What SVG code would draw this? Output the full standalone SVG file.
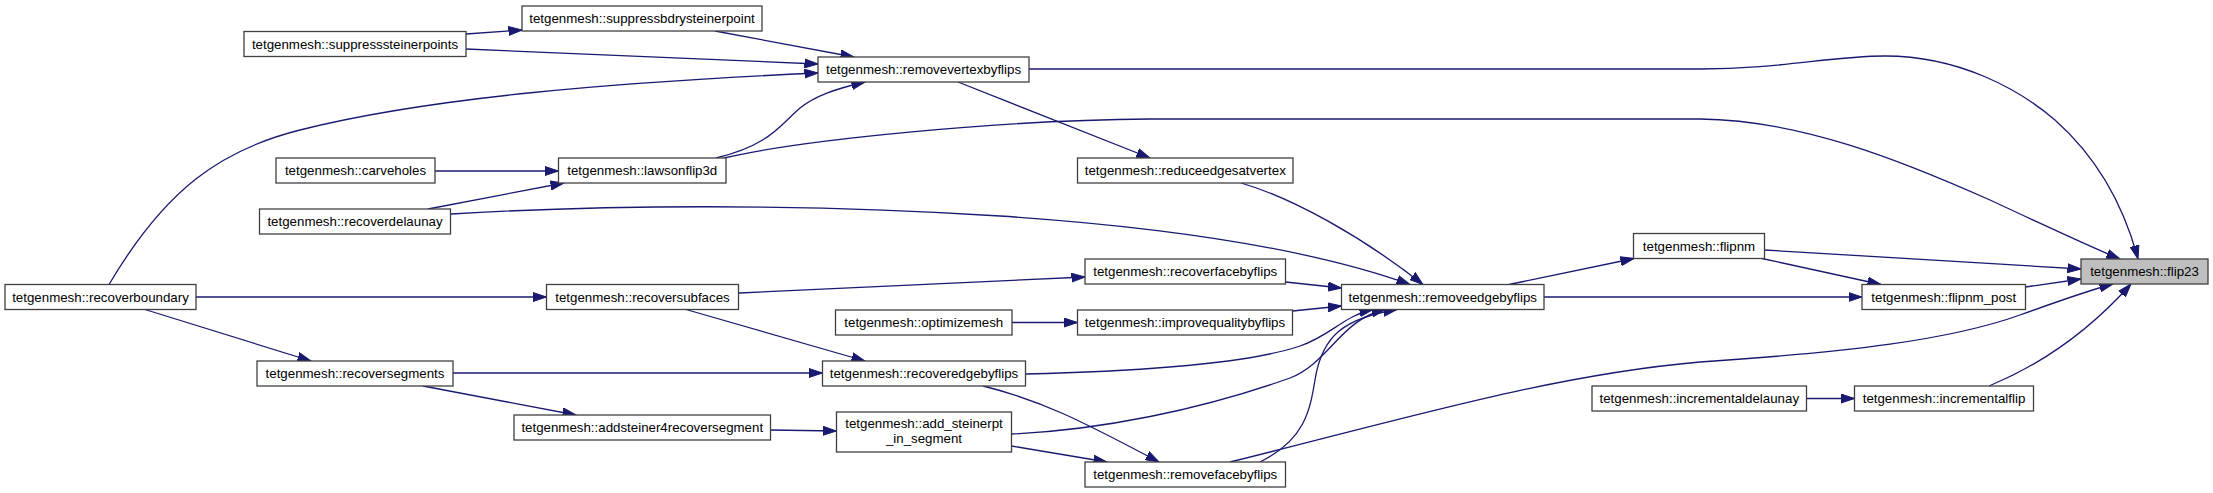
<svg xmlns="http://www.w3.org/2000/svg" width="2213" height="493" viewBox="0 0 2213 493">
<style>
.n rect{fill:#ffffff;stroke:#404040;stroke-width:1.3}
.n.hl rect{fill:#bfbfbf}
.n text{font-family:"Liberation Sans",Arial,Helvetica,sans-serif;font-size:13.3px;text-anchor:middle;fill:#000000}
#edges path{fill:none;stroke:#191970;stroke-width:1.3;marker-end:url(#arr)}
</style>
<defs>
<marker id="arr" markerUnits="userSpaceOnUse" viewBox="0 0 14 10" markerWidth="14" markerHeight="10" refX="13.5" refY="5" orient="auto">
<path d="M0,0.5 L13.5,5 L0,9.5 z" fill="#191970" stroke="#191970" stroke-width="1"/>
</marker>
</defs>
<rect x="0" y="0" width="2213" height="493" fill="#ffffff"/>
<g id="edges">
<path d="M466,34 L522,30"/>
<path d="M466,49 L818,64"/>
<path d="M715,31 L854,57"/>
<path d="M109,284.5 C165,190 220,150 300,130 C430,97 620,82 818,73"/>
<path d="M716,158 C770,145 780,125 800,108 C815,96 835,89 865,82"/>
<path d="M1029,69 L1700,69 C1780,69 1830,56 1885,56 C1960,56 2020,90 2055,120 C2100,160 2125,210 2138,259"/>
<path d="M958,82 L1150,158"/>
<path d="M724,158 C800,140 1000,120 1150,119 L1700,119 C1800,120 1900,160 1990,200 C2050,228 2095,249 2120,259"/>
<path d="M434.5,171 L558.5,171"/>
<path d="M428,209 L564,183"/>
<path d="M451,214 C600,205 800,203 1000,216 C1150,226 1300,245 1410,284.5"/>
<path d="M1241,183 C1290,197 1360,235 1423,284.5"/>
<path d="M196,297 L546.5,297"/>
<path d="M145,309.5 L311,361"/>
<path d="M739,293 L1085,277"/>
<path d="M686,309.5 L865,361"/>
<path d="M1285.5,282 L1341.5,288"/>
<path d="M1012,322.5 L1077.5,322.5"/>
<path d="M1292.5,311 L1341.5,306"/>
<path d="M1025.5,374 C1150,371 1250,363 1300,346 C1330,336 1345,315 1373,309.5"/>
<path d="M1011.5,434 C1100,430 1200,410 1290,378 C1330,362 1340,320 1385,309.5"/>
<path d="M1260,462 C1305,440 1310,410 1315,380 C1322,335 1345,318 1397,309.5"/>
<path d="M983,386 C1040,400 1080,420 1159,462"/>
<path d="M453,373 L822.5,373"/>
<path d="M423,386 L576,415"/>
<path d="M770.5,430 L836.5,431"/>
<path d="M1011.5,446 L1107,462"/>
<path d="M1230,462 C1400,420 1550,375 1700,362 C1850,352 1950,340 2020,315 C2070,297 2090,290 2113,284"/>
<path d="M1989,386 C2040,365 2090,330 2131,284"/>
<path d="M1509,284.5 L1634,258.5"/>
<path d="M1544,297 L1862,297"/>
<path d="M1764.5,250 L2081,269"/>
<path d="M1762,258.5 L1881,284.5"/>
<path d="M2025.5,287 L2081,279"/>
<path d="M1806.5,398.5 L1854.5,398.5"/>
</g>
<g id="n_flip23" class="n hl"><rect x="2081" y="259" width="127" height="25"/><text x="2144.5" y="276">tetgenmesh::flip23</text></g>
<g id="n_removevertexbyflips" class="n"><rect x="818" y="57" width="211" height="25"/><text x="923.5" y="74">tetgenmesh::removevertexbyflips</text></g>
<g id="n_suppressbdrysteinerpoint" class="n"><rect x="522" y="6" width="240" height="25"/><text x="642" y="23">tetgenmesh::suppressbdrysteinerpoint</text></g>
<g id="n_suppresssteinerpoints" class="n"><rect x="244" y="31.5" width="222" height="25"/><text x="355" y="48.5">tetgenmesh::suppresssteinerpoints</text></g>
<g id="n_recoverboundary" class="n"><rect x="5" y="284.5" width="191" height="25"/><text x="100.5" y="301.5">tetgenmesh::recoverboundary</text></g>
<g id="n_lawsonflip3d" class="n"><rect x="558.5" y="158" width="167.5" height="25"/><text x="642.25" y="175">tetgenmesh::lawsonflip3d</text></g>
<g id="n_carveholes" class="n"><rect x="276" y="158" width="159" height="25"/><text x="355.5" y="175">tetgenmesh::carveholes</text></g>
<g id="n_recoverdelaunay" class="n"><rect x="259.5" y="209" width="191" height="25"/><text x="355" y="226">tetgenmesh::recoverdelaunay</text></g>
<g id="n_reduceedgesatvertex" class="n"><rect x="1077.5" y="158" width="215.5" height="25"/><text x="1185.25" y="175">tetgenmesh::reduceedgesatvertex</text></g>
<g id="n_removeedgebyflips" class="n"><rect x="1341.5" y="284.5" width="202.5" height="25"/><text x="1442.75" y="301.5">tetgenmesh::removeedgebyflips</text></g>
<g id="n_recoverfacebyflips" class="n"><rect x="1085" y="259" width="200.5" height="25"/><text x="1185.25" y="276">tetgenmesh::recoverfacebyflips</text></g>
<g id="n_recoversubfaces" class="n"><rect x="546.5" y="284.5" width="192" height="25"/><text x="642.5" y="301.5">tetgenmesh::recoversubfaces</text></g>
<g id="n_improvequalitybyflips" class="n"><rect x="1077.5" y="310" width="215" height="25"/><text x="1185" y="327">tetgenmesh::improvequalitybyflips</text></g>
<g id="n_optimizemesh" class="n"><rect x="835.5" y="310" width="176.5" height="25"/><text x="923.75" y="327">tetgenmesh::optimizemesh</text></g>
<g id="n_recoveredgebyflips" class="n"><rect x="822.5" y="361" width="203" height="25"/><text x="924" y="378">tetgenmesh::recoveredgebyflips</text></g>
<g id="n_recoversegments" class="n"><rect x="257" y="361" width="196" height="25"/><text x="355" y="378">tetgenmesh::recoversegments</text></g>
<g id="n_add_steinerpt_in_segment" class="n"><rect x="836.5" y="412" width="175" height="40"/><text x="924" y="428">tetgenmesh::add_steinerpt</text><text x="924" y="443">_in_segment</text></g>
<g id="n_addsteiner4recoversegment" class="n"><rect x="514" y="415" width="256.5" height="25"/><text x="642.25" y="432">tetgenmesh::addsteiner4recoversegment</text></g>
<g id="n_removefacebyflips" class="n"><rect x="1085" y="462" width="200.5" height="25"/><text x="1185.25" y="479">tetgenmesh::removefacebyflips</text></g>
<g id="n_flipnm" class="n"><rect x="1633.5" y="233.5" width="131" height="25"/><text x="1699" y="250.5">tetgenmesh::flipnm</text></g>
<g id="n_flipnm_post" class="n"><rect x="1862" y="284.5" width="163.5" height="25"/><text x="1943.75" y="301.5">tetgenmesh::flipnm_post</text></g>
<g id="n_incrementalflip" class="n"><rect x="1854.5" y="386" width="179" height="25"/><text x="1944" y="403">tetgenmesh::incrementalflip</text></g>
<g id="n_incrementaldelaunay" class="n"><rect x="1592" y="386" width="214.5" height="25"/><text x="1699.25" y="403">tetgenmesh::incrementaldelaunay</text></g>
</svg>
